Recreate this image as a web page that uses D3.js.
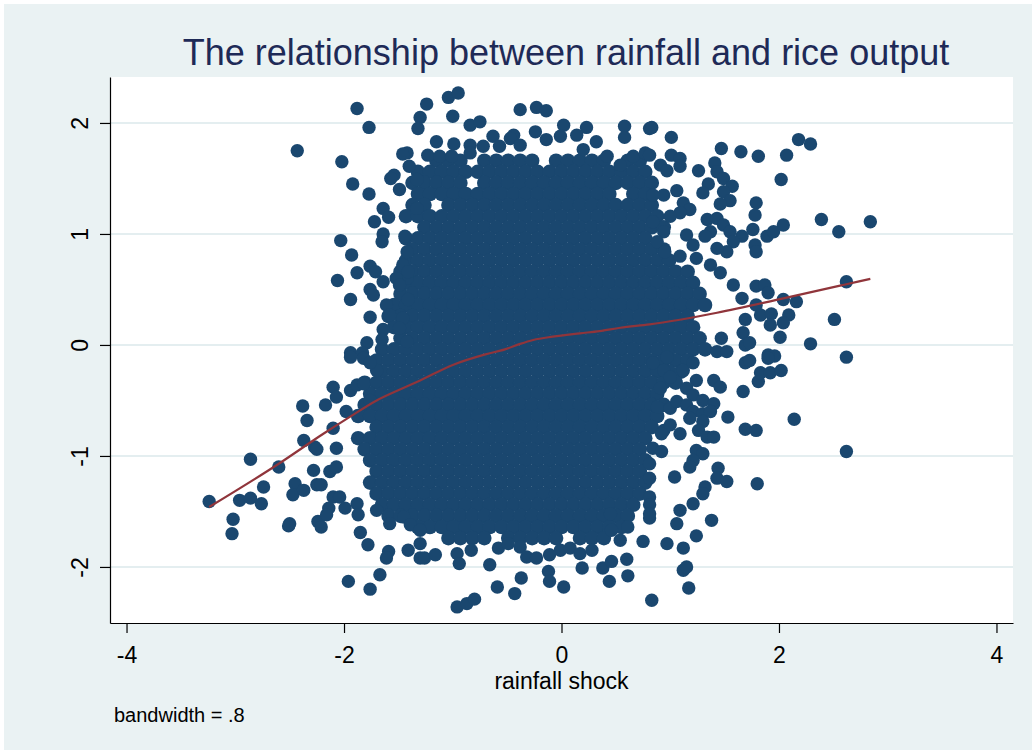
<!DOCTYPE html>
<html><head><meta charset="utf-8">
<script src="https://cdn.jsdelivr.net/npm/d3@7"></script>
<style>html,body{margin:0;padding:0;background:#fff}svg{display:block}</style>
</head><body>
<svg id="chart" width="1032" height="750"></svg>
<script>
const xTicks = [-4, -2, 0, 2, 4];
const xTickLabels = ["-4", "-2", "0", "2", "4"];
const yTicks = [-2, -1, 0, 1, 2];
const yTickLabels = ["-2", "-1", "0", "1", "2"];
const titleText = "The relationship between rainfall and rice output";
const xTitle = "rainfall shock";
const noteText = "bandwidth = .8";

// sparse observations around the cloud: [rainfall shock, rice output]
const outerPoints = [
[-1.88,2.13],[-1.77,1.96],[-2.43,1.75],[-2.02,1.65],[-1.92,1.45],[-1.77,1.36],[-1.42,1.73],[-1.46,1.72],[-1.40,1.61],[-1.54,1.53],[-1.57,1.50],[-1.49,1.40],[-1.64,1.23],[-1.59,1.15],[-1.72,1.11],[-1.64,1.00],[-1.65,0.93],[-1.44,0.98],[-2.03,0.94],[-1.93,0.81],[-1.76,0.71],[-1.71,0.66],[-1.88,0.65],[-2.06,0.58],[-1.64,0.57],[-1.49,0.57],[-1.42,0.60],[-1.76,0.50],[-1.73,0.45],[-1.94,0.41],[-1.41,0.41],[-1.61,0.36],[-1.58,0.27],[-1.76,0.25],[-1.64,0.14],[-1.65,0.05],[-1.79,0.02],[-1.46,0.24],[-1.49,0.15],[-1.42,0.03],[-1.94,-0.07],[-1.83,-0.07],[-1.30,2.05],[-1.32,1.95],[-1.33,1.49],[-1.33,1.23],[-1.42,0.84],[-1.46,0.72],[-1.41,0.66],[-1.52,0.60],[-1.49,0.54],
[-1.24,2.17],[-1.04,2.23],[-0.95,2.27],[-1.00,2.06],[-0.84,1.98],[-0.75,2.01],[-0.38,2.12],[-0.23,2.14],[-0.14,2.11],[-0.63,1.88],[-1.15,1.83],[-0.99,1.81],[-0.44,1.89],[-0.24,1.92],[0.02,1.98],[0.23,1.96],[0.58,1.97],[0.58,1.87],[0.81,1.95],[-1.23,1.71],[-1.12,1.70],[-1.01,1.70],[-0.84,1.80],[-0.72,1.79],[-0.84,1.73],[-0.57,1.79],[-0.47,1.86],[-0.38,1.80],[-0.14,1.85],[-0.01,1.88],[0.14,1.89],[0.32,1.83],[0.20,1.76],[0.42,1.70],[0.54,1.62],[0.66,1.70],[0.77,1.73],
[0.83,1.96],[1.01,1.87],[1.47,1.77],[1.65,1.74],[1.81,1.70],[2.07,1.71],[2.18,1.85],[2.29,1.81],[2.02,1.49],[2.39,1.13],[2.55,1.02],[2.84,1.11],[2.62,0.57],[2.51,0.23],[2.29,0.01],[2.62,-0.11],
[0.81,1.71],[0.91,1.62],[1.01,1.71],[1.09,1.68],[0.97,1.57],[1.09,1.61],[1.26,1.57],[1.41,1.64],[1.43,1.56],[1.49,1.50],[1.57,1.43],[1.49,1.38],[1.55,1.30],[1.46,1.27],[1.35,1.45],[1.30,1.37],[1.79,1.28],[1.78,1.17],[2.04,1.08],[1.76,1.04],[1.89,0.98],[1.95,1.02],[1.78,0.90],[1.79,0.84],[1.66,0.98],[1.06,1.39],[0.94,1.35],[0.84,1.35],[1.12,1.28],[1.18,1.22],[1.09,1.19],[1.00,1.16],[0.84,1.11],[1.34,1.13],[1.43,1.14],[1.49,1.08],[1.37,1.02],[1.32,0.98],[1.55,1.02],[1.58,0.93],[1.52,0.84],[1.43,0.87],[1.15,0.99],[1.21,0.90],[1.09,0.80],[0.94,1.02],[0.88,0.93],[0.95,0.84],[1.24,0.78],[1.37,0.72],[1.46,0.65],[1.58,0.54],[1.66,0.42],[1.79,0.53],[1.87,0.54],[1.90,0.47],[2.04,0.41],[2.16,0.39],[1.79,0.36],[1.83,0.27],[1.93,0.28],[1.92,0.18],[2.09,0.27],[2.04,0.20],[1.69,0.23],[2.01,0.07],[1.67,0.11],[1.69,0.00],[1.73,0.02],[1.47,0.06],[1.43,-0.06],[1.96,-0.10],[1.90,-0.09],
[2.14,-0.67],[2.62,-0.96],[1.80,-1.25],[1.53,-0.65],[1.69,-0.76],[1.79,-0.77],[1.67,-0.42],[1.81,-0.33],[1.83,-0.25],[1.92,-0.25],[2.02,-0.23],[1.90,-0.12],[1.69,-0.16],[1.73,-0.14],[1.52,-0.06],[1.40,-0.32],[1.46,-0.38],[1.24,-0.32],[1.12,-0.23],[1.21,-0.16],[0.94,-0.23],[1.00,-0.29],[0.84,-0.16],[0.97,-0.11],[0.91,-0.39],[1.15,-0.39],[1.21,-0.45],[1.30,-0.50],[1.40,-0.53],[0.88,-0.56],[1.00,-0.57],[1.06,-0.51],[1.15,-0.54],[1.21,-0.60],[1.30,-0.62],[1.37,-0.60],[1.18,-0.66],[1.30,-0.69],[1.26,-0.77],[1.34,-0.83],[1.40,-0.83],[0.94,-0.77],[1.00,-0.72],[1.09,-0.80],[0.92,-0.80],[0.84,-0.93],[0.92,-0.96],[0.81,-1.07],[1.24,-0.95],[1.30,-0.98],[1.21,-1.04],[1.18,-1.10],[1.04,-1.19],[1.44,-1.11],[1.43,-1.20],[1.52,-1.23],[1.32,-1.28],[1.30,-1.34],[0.81,-1.20],[1.21,-1.43],[1.09,-1.49],[1.06,-1.61],[1.38,-1.58],[0.81,-1.37],[0.81,-1.44],[0.81,-1.56],[1.24,-1.72],[0.97,-1.79],[1.12,-1.83],[1.12,-2.03],[1.15,-2.00],[1.17,-2.19],[0.83,-2.30],
[-3.24,-1.41],[-2.86,-1.03],[-2.96,-1.40],[-2.86,-1.38],[-2.76,-1.43],[-2.74,-1.28],[-3.02,-1.57],[-3.03,-1.70],[-2.60,-1.10],[-2.45,-1.25],[-2.47,-1.35],[-2.37,-1.31],[-2.50,-1.61],[-2.51,-1.63],[-2.38,-0.55],[-2.34,-0.68],[-2.37,-0.86],[-2.27,-0.92],[-2.25,-0.94],[-2.17,-0.54],[-2.10,-0.38],[-2.07,-0.47],[-2.28,-1.13],[-2.25,-1.26],[-2.21,-1.26],[-2.13,-1.14],[-2.07,-1.10],[-2.24,-1.59],[-2.21,-1.64],[-2.14,-1.47],[-2.16,-1.53],[-2.10,-1.37],[-2.04,-1.37],[-1.99,-1.47],[-1.94,-0.11],[-1.82,-0.12],[-1.98,-0.60],[-1.94,-0.41],[-1.88,-0.36],[-2.10,-0.75],[-2.07,-0.93],[-1.88,-1.43],[-1.87,-1.53],[-1.85,-1.69],[-1.78,-1.80],[-1.59,-1.86],[-1.61,-1.92],[-1.41,-1.85],[-1.67,-2.07],[-1.96,-2.13],[-1.76,-2.20],[-1.76,-0.50],[-1.82,-0.35],[-1.70,-0.23],[-1.76,-0.16],[-1.70,-1.49],[-1.58,-1.61],[-1.45,-1.55],[-1.39,-1.62],[-1.30,-1.67],[-1.30,-1.79],[-1.30,-1.92],
[-1.26,-1.92],[-1.16,-1.89],[-0.96,-1.88],[-0.94,-1.97],[-0.83,-1.85],[-0.66,-1.98],[-0.58,-1.83],[-0.49,-1.79],[-0.38,-1.82],[-0.32,-1.91],[-0.23,-1.92],[-0.11,-1.89],[-0.01,-1.85],[0.08,-1.83],[0.17,-1.88],[0.28,-1.85],[-0.37,-2.10],[-0.59,-2.18],[-0.43,-2.24],[-0.12,-2.04],[-0.11,-2.13],[0.02,-2.18],[0.19,-2.01],[0.38,-2.01],[0.46,-1.95],[0.60,-1.93],[0.44,-2.13],[0.61,-2.08],[-0.96,-2.36],[-0.87,-2.33],[-0.80,-2.29],[0.45,-1.52],[0.46,-1.67],[0.54,-1.76],[0.61,-1.64],[0.75,-1.77],[0.81,-1.52]
];

// dense centre of the cloud, read band by band: [rice output, rainfall shock values]
const coreBands = [
[1.66,[-1.15,-1.04,-0.93,-0.71,-0.60,-0.49,-0.38,-0.27,-0.05,0.06,0.17,0.28,0.39,0.61,0.72]],
[1.56,[-1.32,-1.21,-1.10,-0.99,-0.88,-0.77,-0.66,-0.55,-0.44,-0.33,-0.22,-0.11,0.00,0.11,0.22,0.33,0.44,0.55,0.66,0.77]],
[1.46,[-1.37,-1.26,-1.15,-1.04,-0.93,-0.71,-0.60,-0.49,-0.38,-0.27,-0.16,-0.05,0.06,0.17,0.28,0.39,0.50,0.61,0.72,0.83]],
[1.36,[-1.32,-1.21,-1.10,-0.99,-0.88,-0.77,-0.66,-0.55,-0.44,-0.33,-0.22,-0.11,0.00,0.11,0.22,0.33,0.44,0.66,0.77]],
[1.26,[-1.37,-1.26,-1.04,-0.93,-0.82,-0.71,-0.60,-0.49,-0.38,-0.27,-0.16,-0.05,0.06,0.17,0.28,0.39,0.50,0.61,0.72,0.83]],
[1.16,[-1.43,-1.32,-1.21,-1.10,-0.99,-0.88,-0.77,-0.66,-0.55,-0.44,-0.33,-0.22,-0.11,0.00,0.11,0.22,0.33,0.44,0.55,0.66,0.77,0.88]],
[1.06,[-1.26,-1.15,-1.04,-0.93,-0.82,-0.71,-0.60,-0.49,-0.38,-0.27,-0.16,-0.05,0.06,0.17,0.28,0.39,0.50,0.61,0.72,0.83,0.94]],
[0.96,[-1.43,-1.32,-1.21,-1.10,-0.99,-0.88,-0.77,-0.66,-0.55,-0.44,-0.33,-0.22,-0.11,0.00,0.11,0.22,0.33,0.44,0.55,0.66,0.77]],
[0.86,[-1.37,-1.26,-1.15,-1.04,-0.93,-0.82,-0.71,-0.60,-0.49,-0.38,-0.27,-0.16,-0.05,0.06,0.17,0.28,0.39,0.50,0.61,0.72,0.83,0.94]],
[0.76,[-1.43,-1.32,-1.21,-1.10,-0.99,-0.88,-0.77,-0.66,-0.55,-0.44,-0.33,-0.22,-0.11,0.00,0.11,0.22,0.33,0.44,0.55,0.66,0.77,0.88,0.99]],
[0.66,[-1.48,-1.37,-1.26,-1.15,-1.04,-0.93,-0.82,-0.71,-0.60,-0.49,-0.38,-0.27,-0.16,-0.05,0.06,0.17,0.28,0.39,0.50,0.61,0.72,0.83,0.94,1.05,1.16]],
[0.56,[-1.43,-1.32,-1.21,-1.10,-0.99,-0.88,-0.77,-0.66,-0.55,-0.44,-0.33,-0.22,-0.11,0.00,0.11,0.22,0.33,0.44,0.55,0.66,0.77,0.88,0.99,1.10,1.21]],
[0.46,[-1.48,-1.37,-1.26,-1.15,-1.04,-0.93,-0.82,-0.71,-0.60,-0.49,-0.38,-0.27,-0.16,-0.05,0.06,0.17,0.28,0.39,0.50,0.61,0.72,0.83,0.94,1.05,1.16,1.27]],
[0.36,[-1.54,-1.43,-1.32,-1.21,-1.10,-0.99,-0.88,-0.77,-0.66,-0.55,-0.44,-0.33,-0.22,-0.11,0.00,0.11,0.22,0.33,0.44,0.55,0.66,0.77,0.88,0.99,1.10,1.21,1.32]],
[0.26,[-1.59,-1.48,-1.37,-1.26,-1.15,-1.04,-0.93,-0.82,-0.71,-0.60,-0.49,-0.38,-0.27,-0.16,-0.05,0.06,0.17,0.28,0.39,0.50,0.61,0.72,0.83,0.94,1.05,1.16]],
[0.16,[-1.54,-1.43,-1.32,-1.21,-1.10,-0.99,-0.88,-0.77,-0.66,-0.55,-0.44,-0.33,-0.22,-0.11,0.00,0.11,0.22,0.33,0.44,0.55,0.66,0.77,0.88,0.99,1.10,1.21]],
[0.06,[-1.48,-1.37,-1.26,-1.15,-1.04,-0.93,-0.82,-0.71,-0.60,-0.49,-0.38,-0.27,-0.16,-0.05,0.06,0.17,0.28,0.39,0.50,0.61,0.72,0.83,0.94,1.05,1.16,1.27]],
[-0.04,[-1.65,-1.54,-1.43,-1.32,-1.21,-1.10,-0.99,-0.88,-0.77,-0.66,-0.55,-0.44,-0.33,-0.22,-0.11,0.00,0.11,0.22,0.33,0.44,0.55,0.66,0.77,0.88,0.99,1.10,1.21,1.32]],
[-0.14,[-1.70,-1.59,-1.48,-1.37,-1.26,-1.15,-1.04,-0.93,-0.82,-0.71,-0.60,-0.49,-0.38,-0.27,-0.16,-0.05,0.06,0.17,0.28,0.39,0.50,0.61,0.72,0.83,0.94,1.05,1.16]],
[-0.24,[-1.65,-1.54,-1.43,-1.32,-1.21,-1.10,-0.99,-0.88,-0.77,-0.66,-0.55,-0.44,-0.33,-0.22,-0.11,0.00,0.11,0.22,0.33,0.44,0.55,0.66,0.77,0.88,0.99,1.10]],
[-0.34,[-1.81,-1.70,-1.59,-1.48,-1.37,-1.26,-1.15,-1.04,-0.93,-0.82,-0.71,-0.60,-0.49,-0.38,-0.27,-0.16,-0.05,0.06,0.17,0.28,0.39,0.50,0.61,0.72,0.83,0.94,1.05]],
[-0.44,[-1.76,-1.65,-1.54,-1.43,-1.32,-1.21,-1.10,-0.99,-0.88,-0.77,-0.66,-0.55,-0.44,-0.33,-0.22,-0.11,0.00,0.11,0.22,0.33,0.44,0.55,0.66,0.77,0.88]],
[-0.54,[-1.81,-1.70,-1.59,-1.48,-1.37,-1.26,-1.15,-1.04,-0.93,-0.82,-0.71,-0.60,-0.49,-0.38,-0.27,-0.16,-0.05,0.06,0.17,0.28,0.39,0.50,0.61,0.72,0.83,0.94]],
[-0.64,[-1.87,-1.76,-1.65,-1.54,-1.43,-1.32,-1.21,-1.10,-0.99,-0.88,-0.77,-0.66,-0.55,-0.44,-0.33,-0.22,-0.11,0.00,0.11,0.22,0.33,0.44,0.55,0.66,0.77,0.88]],
[-0.74,[-1.70,-1.59,-1.48,-1.37,-1.26,-1.15,-1.04,-0.93,-0.82,-0.71,-0.60,-0.49,-0.38,-0.27,-0.16,-0.05,0.06,0.17,0.28,0.39,0.50,0.61,0.72,0.83]],
[-0.84,[-1.87,-1.76,-1.65,-1.54,-1.43,-1.32,-1.21,-1.10,-0.99,-0.88,-0.77,-0.66,-0.55,-0.44,-0.33,-0.22,-0.11,0.00,0.11,0.22,0.33,0.44,0.55,0.66,0.77]],
[-0.94,[-1.81,-1.70,-1.59,-1.48,-1.37,-1.26,-1.15,-1.04,-0.93,-0.82,-0.71,-0.60,-0.49,-0.38,-0.27,-0.16,-0.05,0.06,0.17,0.28,0.39,0.50,0.61,0.72]],
[-1.04,[-1.76,-1.65,-1.54,-1.43,-1.32,-1.21,-1.10,-0.99,-0.88,-0.77,-0.66,-0.55,-0.44,-0.33,-0.22,-0.11,0.00,0.11,0.22,0.33,0.44,0.55,0.66,0.77]],
[-1.14,[-1.70,-1.59,-1.48,-1.37,-1.26,-1.15,-1.04,-0.93,-0.82,-0.71,-0.60,-0.49,-0.38,-0.27,-0.16,-0.05,0.06,0.17,0.28,0.39,0.50,0.61,0.72]],
[-1.24,[-1.76,-1.65,-1.54,-1.43,-1.32,-1.21,-1.10,-0.99,-0.88,-0.77,-0.66,-0.55,-0.44,-0.33,-0.22,-0.11,0.00,0.11,0.22,0.33,0.44,0.55,0.66,0.77]],
[-1.34,[-1.70,-1.59,-1.48,-1.37,-1.26,-1.15,-1.04,-0.93,-0.82,-0.71,-0.60,-0.49,-0.38,-0.27,-0.16,-0.05,0.06,0.17,0.28,0.39,0.50,0.61,0.72]],
[-1.44,[-1.65,-1.54,-1.43,-1.32,-1.21,-1.10,-0.99,-0.88,-0.77,-0.66,-0.55,-0.44,-0.33,-0.22,-0.11,0.00,0.11,0.22,0.33,0.44,0.55,0.66]],
[-1.54,[-1.59,-1.48,-1.37,-1.26,-1.15,-1.04,-0.93,-0.82,-0.71,-0.60,-0.49,-0.38,-0.27,-0.16,-0.05,0.06,0.17,0.28,0.39,0.50,0.61]],
[-1.64,[-1.32,-1.21,-1.10,-0.99,-0.88,-0.77,-0.66,-0.55,-0.44,-0.33,-0.22,-0.11,0.00,0.11,0.22,0.33,0.44,0.55]],
[-1.74,[-1.04,-0.93,-0.82,-0.71,-0.49,-0.38,-0.27,-0.16,-0.05,0.17,0.28,0.39]]
];

// lowess smoother (bandwidth .8)
const lowessX = [-3.24,-2.60,-2.19,-1.95,-1.70,-1.46,-1.30,-1.00,-0.70,-0.52,-0.38,-0.26,-0.08,0.17,0.35,0.54,0.81,1.43,2.04,2.59,2.84];
const lowessY = [-1.46,-1.07,-0.80,-0.65,-0.50,-0.39,-0.32,-0.18,-0.085,-0.04,0.01,0.045,0.075,0.105,0.125,0.155,0.185,0.29,0.42,0.54,0.595];

const W = 1032, H = 750;
const plot = {l: 110, r: 1013, t: 77, b: 623};
const FONT = "'Liberation Sans', Arial, Helvetica, sans-serif";
const NAVY = "#1a476f", MAROON = "#90353b", BG = "#eaf2f3";

const x = d3.scaleLinear().domain([-4.152, 4.152]).range([plot.l, plot.r]);
const y = d3.scaleLinear().domain([-2.505, 2.414]).range([plot.b, plot.t]);

const svg = d3.select("#chart");
svg.append("rect").attr("x", 4).attr("y", 4).attr("width", W - 4).attr("height", H - 4).attr("fill", BG);
svg.append("rect").attr("x", plot.l).attr("y", plot.t).attr("width", plot.r - plot.l).attr("height", plot.b - plot.t).attr("fill", "#ffffff");

// gridlines
svg.append("g").selectAll("line").data(yTicks).join("line")
  .attr("x1", plot.l).attr("x2", plot.r)
  .attr("y1", d => y(d)).attr("y2", d => y(d))
  .attr("stroke", "#e4eef0").attr("stroke-width", 2);

// points (centre band markers drawn with the same symbol, slightly overlapping)
const corePts = [];
coreBands.forEach(([yy, xs]) => xs.forEach(xx => corePts.push([xx, yy])));
const gPts = svg.append("g");
gPts.selectAll("circle.core").data(corePts).join("circle").attr("class", "core")
  .attr("cx", d => x(d[0])).attr("cy", d => y(d[1])).attr("r", 7.3)
  .attr("fill", NAVY);
gPts.selectAll("circle.outer").data(outerPoints).join("circle").attr("class", "outer")
  .attr("cx", d => x(d[0])).attr("cy", d => y(d[1])).attr("r", 6.7)
  .attr("fill", NAVY);

// lowess line
const lw = lowessX.map((v, i) => [v, lowessY[i]]);
svg.append("path").datum(lw)
  .attr("d", d3.line().x(d => x(d[0])).y(d => y(d[1])).curve(d3.curveMonotoneX))
  .attr("fill", "none").attr("stroke", MAROON).attr("stroke-width", 2.2);

// axes
const yAxis = svg.append("g").attr("transform", `translate(${plot.l},0)`)
  .call(d3.axisLeft(y).tickValues(yTicks).tickFormat((d, i) => yTickLabels[i]).tickSize(10).tickSizeOuter(0));
yAxis.selectAll("text").attr("x", 0).attr("dy", null).attr("y", 0)
  .attr("transform", "translate(-22,0) rotate(-90)").attr("text-anchor", "middle");
const xAxis = svg.append("g").attr("transform", `translate(0,${plot.b})`)
  .call(d3.axisBottom(x).tickValues(xTicks).tickFormat((d, i) => xTickLabels[i]).tickSize(10).tickSizeOuter(0));
xAxis.selectAll("text").attr("y", 40).attr("dy", null);
[yAxis, xAxis].forEach(a => {
  a.selectAll("text").attr("font-family", FONT).attr("font-size", 23).attr("fill", "#000");
  a.selectAll("line").attr("stroke", "#000").attr("stroke-width", 1.2);
  a.select(".domain").attr("stroke", "#000").attr("stroke-width", 1.2);
});

// texts
svg.append("text").attr("x", 566).attr("y", 65).attr("text-anchor", "middle")
  .attr("font-family", FONT).attr("font-size", 36).attr("fill", "#1e2a57").text(titleText);
svg.append("text").attr("x", 561.5).attr("y", 689).attr("text-anchor", "middle")
  .attr("font-family", FONT).attr("font-size", 23).attr("fill", "#000").text(xTitle);
svg.append("text").attr("x", 114).attr("y", 722)
  .attr("font-family", FONT).attr("font-size", 20).attr("fill", "#000").text(noteText);
</script>
</body></html>
